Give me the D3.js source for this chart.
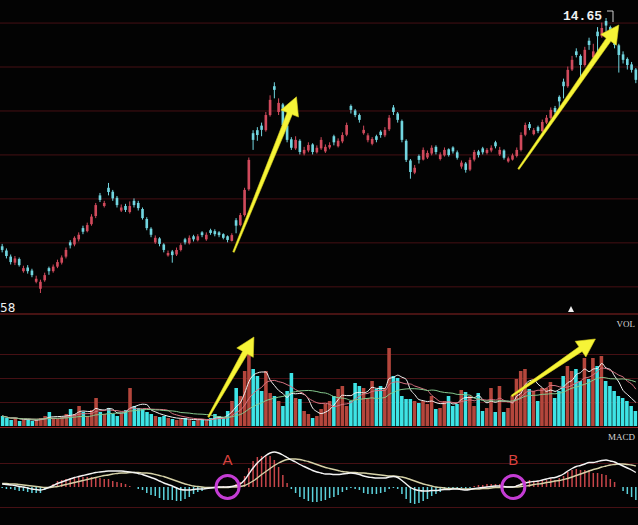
<!DOCTYPE html>
<html>
<head>
<meta charset="utf-8">
<script src="https://cdn.jsdelivr.net/npm/d3@7"></script>
<style>
  body { margin: 0; background: #000; }
  svg { display: block; }
</style>
</head>
<body>
<div id="chart"></div>
<script>
// candles (price units)
const opens = [
  7.12,6.98,6.78,6.58,6.70,6.30,6.42,6.32,5.95,5.72,
  6.00,6.40,6.30,6.45,6.58,6.78,7.25,7.18,7.35,7.72,
  7.62,7.85,8.12,8.80,8.45,9.05,8.92,8.72,8.30,8.45,
  8.25,8.62,8.55,8.35,8.02,7.70,7.25,7.38,7.18,6.82,
  6.95,6.85,7.00,7.35,7.22,7.45,7.32,7.58,7.35,7.65,
  7.62,7.58,7.52,7.45,7.30,7.98,7.82,8.15,9.00,10.85,
  10.95,11.10,10.95,11.45,12.40,11.55,11.80,11.10,10.65,10.35,
  10.60,10.18,10.28,10.48,10.22,10.35,10.25,10.38,10.75,10.42,
  10.58,10.80,11.75,11.60,11.45,10.85,10.62,10.50,10.75,10.90,
  10.78,10.98,11.70,11.50,11.25,10.60,9.95,9.55,10.10,9.98,
  10.05,10.18,10.40,10.00,10.12,10.32,10.38,10.22,9.75,9.85,
  9.65,9.98,10.25,10.35,10.20,10.28,10.55,10.15,10.28,9.92,
  9.98,10.10,10.30,10.80,11.15,10.82,11.05,10.92,11.20,11.35,
  11.68,12.05,12.55,12.40,12.95,13.55,13.40,13.10,13.90,13.35,
  14.20,14.05,14.55,14.35,14.00,13.75,13.45,13.30,13.12,12.95
];
const closes = [
  7.00,6.80,6.60,6.72,6.50,6.40,6.30,6.17,6.05,5.95,
  6.17,6.30,6.45,6.60,6.75,7.00,7.15,7.40,7.50,7.60,
  7.82,8.10,8.48,8.65,8.55,8.91,8.70,8.48,8.40,8.32,
  8.45,8.48,8.38,8.05,7.72,7.50,7.40,7.20,7.00,6.90,
  6.83,7.00,7.16,7.25,7.40,7.35,7.45,7.49,7.50,7.56,
  7.52,7.49,7.40,7.33,7.49,7.80,8.15,8.98,9.97,10.63,
  10.79,10.96,11.45,11.95,12.28,11.85,11.12,10.63,10.37,10.63,
  10.23,10.30,10.46,10.23,10.37,10.63,10.40,10.46,10.55,10.60,
  10.79,11.12,11.62,11.45,11.29,10.96,10.78,10.66,10.63,10.79,
  10.96,11.36,11.55,11.29,10.63,9.97,9.57,9.71,9.97,10.30,
  10.20,10.37,10.23,10.15,10.30,10.13,10.25,10.04,9.88,9.64,
  9.97,10.23,10.13,10.22,10.30,10.37,10.42,10.30,10.04,10.02,
  10.12,10.30,10.79,11.12,11.02,10.95,10.92,11.22,11.36,11.62,
  11.55,11.90,12.40,12.94,13.27,13.43,13.10,13.60,13.76,13.55,
  14.05,14.32,14.40,13.99,13.76,13.43,13.27,13.10,12.94,12.61
];
const highs = [
  7.20,7.05,6.85,6.80,6.75,6.48,6.50,6.38,6.15,6.02,
  6.25,6.45,6.52,6.68,6.82,7.08,7.32,7.45,7.58,7.80,
  7.90,8.18,8.55,8.88,8.62,9.21,8.98,8.78,8.50,8.52,
  8.60,8.70,8.62,8.40,8.08,7.75,7.48,7.42,7.22,6.98,
  7.00,7.08,7.22,7.40,7.48,7.50,7.52,7.62,7.58,7.70,
  7.68,7.62,7.55,7.48,7.55,8.05,8.22,9.05,10.05,10.95,
  11.05,11.20,11.55,12.10,12.53,12.00,11.85,11.15,10.72,10.75,
  10.65,10.40,10.55,10.52,10.45,10.72,10.48,10.55,10.80,10.68,
  10.88,11.20,11.80,11.65,11.50,11.10,10.85,10.72,10.80,10.95,
  11.05,11.45,11.78,11.55,11.30,10.65,10.00,9.80,10.15,10.38,
  10.28,10.45,10.45,10.22,10.38,10.35,10.42,10.28,9.95,9.90,
  10.05,10.30,10.30,10.40,10.36,10.45,10.60,10.40,10.32,10.08,
  10.18,10.38,10.88,11.20,11.22,11.02,11.10,11.30,11.45,11.70,
  11.75,12.10,12.65,13.05,13.40,13.65,13.45,13.70,14.00,13.80,
  14.35,14.50,14.65,14.40,14.10,13.80,13.55,13.35,13.20,13.00
];
const lows = [
  6.92,6.72,6.52,6.50,6.45,6.25,6.22,6.10,5.90,5.58,
  5.95,6.18,6.25,6.40,6.52,6.72,7.05,7.12,7.28,7.52,
  7.58,7.80,8.05,8.58,8.40,8.80,8.62,8.40,8.25,8.25,
  8.20,8.40,8.30,8.00,7.65,7.42,7.20,7.12,6.92,6.78,
  6.58,6.80,6.95,7.18,7.18,7.28,7.28,7.42,7.30,7.50,
  7.45,7.42,7.35,7.25,7.28,7.55,7.78,8.10,8.95,10.30,
  10.60,10.75,10.90,11.40,12.00,11.45,11.05,10.55,10.30,10.30,
  10.15,10.12,10.22,10.15,10.18,10.30,10.20,10.32,10.45,10.38,
  10.52,10.75,11.50,11.38,11.20,10.80,10.55,10.45,10.55,10.70,
  10.72,10.92,11.45,11.20,10.55,9.90,9.35,9.50,9.85,9.95,
  10.00,10.12,10.15,9.95,10.08,10.08,10.18,9.98,9.68,9.55,
  9.60,9.92,10.05,10.15,10.15,10.22,10.35,10.10,9.98,9.88,
  9.95,10.05,10.25,10.75,10.95,10.78,10.85,10.88,11.15,11.30,
  11.48,11.55,12.00,12.35,12.90,13.35,12.70,13.05,13.60,13.20,
  13.50,14.00,14.20,13.90,13.65,12.85,13.15,12.95,12.85,12.50
];
const volumes = [
  10,8,6,8,5,6,7,5,6,8,
  10,14,8,7,9,12,17,12,20,14,
  10,16,28,14,12,18,12,10,12,16,
  38,20,18,17,14,12,10,9,10,8,
  7,6,7,8,6,5,6,7,5,8,
  12,10,8,15,25,38,30,55,73,57,
  50,35,55,33,30,25,20,35,53,28,
  27,15,12,8,10,17,22,25,30,37,
  40,20,25,43,40,38,28,45,37,40,
  38,78,50,48,30,27,27,25,23,25,
  22,30,17,18,25,30,20,22,36,34,
  30,20,33,15,18,38,14,40,14,18,
  30,47,55,57,37,35,25,38,38,44,
  28,35,50,60,55,57,45,68,47,68,
  60,70,45,40,35,30,28,25,20,15
];
const dif = [
  0.06,0.05,0.04,0.03,0.01,0.00,-0.02,-0.04,-0.05,-0.06,
  -0.04,-0.01,0.03,0.07,0.10,0.13,0.16,0.19,0.21,0.23,
  0.25,0.27,0.29,0.30,0.31,0.32,0.32,0.32,0.32,0.31,
  0.30,0.29,0.27,0.25,0.22,0.19,0.16,0.12,0.08,0.05,
  0.02,-0.02,-0.05,-0.06,-0.06,-0.05,-0.04,-0.04,-0.03,-0.02,
  -0.01,0.00,0.00,0.00,0.01,0.03,0.06,0.14,0.26,0.38,
  0.48,0.56,0.63,0.68,0.70,0.68,0.64,0.59,0.54,0.50,
  0.45,0.41,0.37,0.33,0.30,0.28,0.26,0.26,0.25,0.25,
  0.26,0.27,0.28,0.27,0.25,0.22,0.20,0.19,0.18,0.18,
  0.18,0.20,0.21,0.19,0.13,0.06,-0.01,-0.05,-0.07,-0.08,
  -0.08,-0.07,-0.07,-0.06,-0.05,-0.05,-0.04,-0.04,-0.05,-0.06,
  -0.05,-0.03,-0.02,-0.01,0.00,0.01,0.02,0.02,0.01,0.00,
  0.00,0.02,0.05,0.08,0.10,0.11,0.12,0.14,0.16,0.18,
  0.19,0.22,0.26,0.32,0.37,0.41,0.43,0.46,0.49,0.49,
  0.51,0.53,0.54,0.52,0.50,0.46,0.42,0.38,0.34,0.29
];
const dea = [
  0.07,0.07,0.06,0.06,0.05,0.04,0.03,0.02,0.01,0.00,
  -0.01,-0.01,0.00,0.01,0.03,0.05,0.07,0.09,0.11,0.13,
  0.15,0.17,0.19,0.21,0.23,0.24,0.26,0.27,0.28,0.28,
  0.29,0.29,0.29,0.28,0.28,0.27,0.25,0.23,0.21,0.18,
  0.15,0.12,0.09,0.06,0.04,0.02,0.01,0.00,-0.01,-0.01,
  -0.01,-0.01,-0.01,-0.01,0.00,0.00,0.01,0.03,0.07,0.12,
  0.18,0.25,0.31,0.37,0.43,0.48,0.52,0.55,0.56,0.56,
  0.55,0.53,0.51,0.48,0.45,0.42,0.39,0.37,0.35,0.33,
  0.31,0.30,0.29,0.29,0.28,0.28,0.27,0.26,0.25,0.24,
  0.23,0.22,0.22,0.21,0.20,0.18,0.15,0.12,0.09,0.06,
  0.04,0.02,0.00,-0.01,-0.02,-0.03,-0.03,-0.03,-0.04,-0.04,
  -0.04,-0.04,-0.04,-0.03,-0.03,-0.02,-0.01,-0.01,0.00,0.00,
  0.00,0.00,0.01,0.02,0.03,0.05,0.06,0.07,0.09,0.10,
  0.12,0.13,0.15,0.17,0.20,0.23,0.26,0.29,0.32,0.35,
  0.37,0.40,0.42,0.44,0.45,0.46,0.46,0.45,0.44,0.42
];
const priceGrid = [14.5, 13.05, 11.6, 10.15, 8.7, 7.25, 5.8];
const volGrid = [24, 48, 72];
const macdGrid = [0.48, -0.4];
const volMA = [5, 10, 20];
const highLabel = "14.65", lowLabel = "58";

const width = 638, height = 525;
const up = "#d04a5c", down = "#72d6e0",
    volUp = "#b4463c", volDown = "#3ee4e6",
    grid = "#461014", sep = "#8c2424";

const svg = d3.select("#chart").append("svg")
    .attr("width", width)
    .attr("height", height)
    .style("background", "#030303");

const idx = d3.range(closes.length);
const x = d3.scaleBand().domain(idx).range([0, width]).paddingInner(0.38).paddingOuter(0.2);
const xv = x.copy().paddingInner(0.16);
const cx = i => x(i) + x.bandwidth() / 2;

const yP = d3.scaleLinear().domain([5.58, 14.65]).range([293, 18]);
const yV = d3.scaleLinear().domain([0, 110]).range([426, 316]);
const yM = d3.scaleLinear().domain([-0.8, 1.2]).range([527, 427]);

// grid lines
const gridLines = (vals, scale) => svg.append("g").selectAll("line")
    .data(vals).join("line")
    .attr("x1", 0).attr("x2", width)
    .attr("y1", d => scale(d) + 0.5).attr("y2", d => scale(d) + 0.5)
    .attr("stroke", grid).attr("stroke-width", 1);
gridLines(priceGrid, yP);
gridLines(volGrid, yV);
gridLines(macdGrid, yM);

svg.append("g").selectAll("line")
    .data([314, 427.5]).join("line")
    .attr("x1", 0).attr("x2", width)
    .attr("y1", d => d).attr("y2", d => d)
    .attr("stroke", sep).attr("stroke-width", 1.2);

// candles
const isUp = i => closes[i] >= opens[i];
const candles = svg.append("g").selectAll("g").data(idx).join("g");
candles.append("line")
    .attr("x1", i => cx(i)).attr("x2", i => cx(i))
    .attr("y1", i => yP(highs[i])).attr("y2", i => yP(lows[i]))
    .attr("stroke", i => isUp(i) ? up : down).attr("stroke-width", 1);
candles.append("rect")
    .attr("x", i => x(i))
    .attr("width", x.bandwidth())
    .attr("y", i => yP(Math.max(opens[i], closes[i])))
    .attr("height", i => Math.max(1, Math.abs(yP(opens[i]) - yP(closes[i]))))
    .attr("fill", i => isUp(i) ? up : down);

// volume
svg.append("g").selectAll("rect").data(idx).join("rect")
    .attr("x", i => xv(i))
    .attr("width", xv.bandwidth())
    .attr("y", i => yV(volumes[i]))
    .attr("height", i => yV(0) - yV(volumes[i]))
    .attr("fill", i => isUp(i) ? volUp : volDown);

const maColors = ["#f2f2f2", "#d87482", "#86c98e"];
volMA.forEach((n, k) => {
  const ma = idx.map(i => d3.mean(volumes.slice(Math.max(0, i - n + 1), i + 1)));
  svg.append("path")
    .attr("d", d3.line().x((d, i) => cx(i)).y(d => yV(d)).curve(d3.curveMonotoneX)(ma))
    .attr("fill", "none").attr("stroke", maColors[k]).attr("stroke-width", 1);
});

// MACD
svg.append("g").selectAll("line").data(idx).join("line")
    .attr("x1", i => cx(i)).attr("x2", i => cx(i))
    .attr("y1", yM(0))
    .attr("y2", i => yM(2 * (dif[i] - dea[i])))
    .attr("stroke", i => dif[i] >= dea[i] ? "#c8464a" : "#5cd2dc")
    .attr("stroke-width", 1.5);
[[dea, "#d6d2a8"], [dif, "#f4f4f4"]].forEach(([s, c]) => {
  svg.append("path")
    .attr("d", d3.line().x((d, i) => cx(i)).y(d => yM(d)).curve(d3.curveMonotoneX)(s))
    .attr("fill", "none").attr("stroke", c).attr("stroke-width", 1.4);
});

// yellow arrows (data coordinates)
const arrows = [
  {a: [54.4, 6.93], b: [69.2, 12.05], ys: yP},
  {a: [121.4, 9.67], b: [145, 14.42], ys: yP},
  {a: [48.5, 9], b: [59.2, 89], ys: yV},
  {a: [119.8, 30], b: [139.5, 87], ys: yV}
];
const px = v => x.step() * v + x.step() * x.paddingOuter() + x.bandwidth() / 2;
arrows.forEach(d => {
  const x1 = px(d.a[0]), y1 = d.ys(d.a[1]), x2 = px(d.b[0]), y2 = d.ys(d.b[1]);
  const len = Math.hypot(x2 - x1, y2 - y1), ux = (x2 - x1) / len, uy = (y2 - y1) / len;
  const nx = -uy, ny = ux, hl = 18, hw = 9.5, sw = 2.8;
  const bx = x2 - ux * hl, by = y2 - uy * hl;
  const pts = [
    [x1 + nx * 0.8, y1 + ny * 0.8], [bx + nx * sw, by + ny * sw], [bx + nx * hw, by + ny * hw],
    [x2, y2], [bx - nx * hw, by - ny * hw], [bx - nx * sw, by - ny * sw], [x1 - nx * 0.8, y1 - ny * 0.8]
  ];
  svg.append("polygon")
    .attr("points", pts.map(p => p.join(",")).join(" "))
    .attr("fill", "#f6f437").attr("stroke", "#d8d020").attr("stroke-width", 0.6);
});

// A / B circles
const marks = [{label: "A", i: 53}, {label: "B", i: 120.2}];
marks.forEach(m => {
  svg.append("circle")
    .attr("cx", px(m.i)).attr("cy", yM(0))
    .attr("r", 11.5)
    .attr("fill", "none").attr("stroke", "#c43cd4").attr("stroke-width", 3);
  svg.append("text")
    .attr("x", px(m.i)).attr("y", yM(0.57) + 6)
    .attr("text-anchor", "middle")
    .attr("font-family", "Liberation Sans, Arial, sans-serif")
    .attr("font-size", 15)
    .attr("fill", "#d8423e")
    .text(m.label);
});

// labels
svg.append("text")
    .attr("x", 563).attr("y", 20)
    .attr("font-family", "Liberation Mono, DejaVu Sans Mono, monospace")
    .attr("font-weight", "bold").attr("font-size", 13)
    .attr("fill", "#f0f0f0")
    .text(highLabel);
svg.append("path")
    .attr("d", "M607,11H613V22")
    .attr("fill", "none").attr("stroke", "#d0d0d0").attr("stroke-width", 1);
svg.append("text")
    .attr("x", 0).attr("y", 312)
    .attr("font-family", "DejaVu Sans, sans-serif")
    .attr("font-size", 12)
    .attr("fill", "#f0f0f0")
    .text(lowLabel);
svg.append("path")
    .attr("d", "M571,306L574,312H568Z")
    .attr("fill", "#f0f0f0");
svg.append("text")
    .attr("x", 635).attr("y", 327)
    .attr("text-anchor", "end")
    .attr("font-family", "Liberation Serif, serif")
    .attr("font-size", 9)
    .attr("fill", "#d8d8d8")
    .text("VOL");
svg.append("text")
    .attr("x", 635).attr("y", 440)
    .attr("text-anchor", "end")
    .attr("font-family", "Liberation Serif, serif")
    .attr("font-size", 9)
    .attr("fill", "#d8d8d8")
    .text("MACD");
</script>
</body>
</html>
